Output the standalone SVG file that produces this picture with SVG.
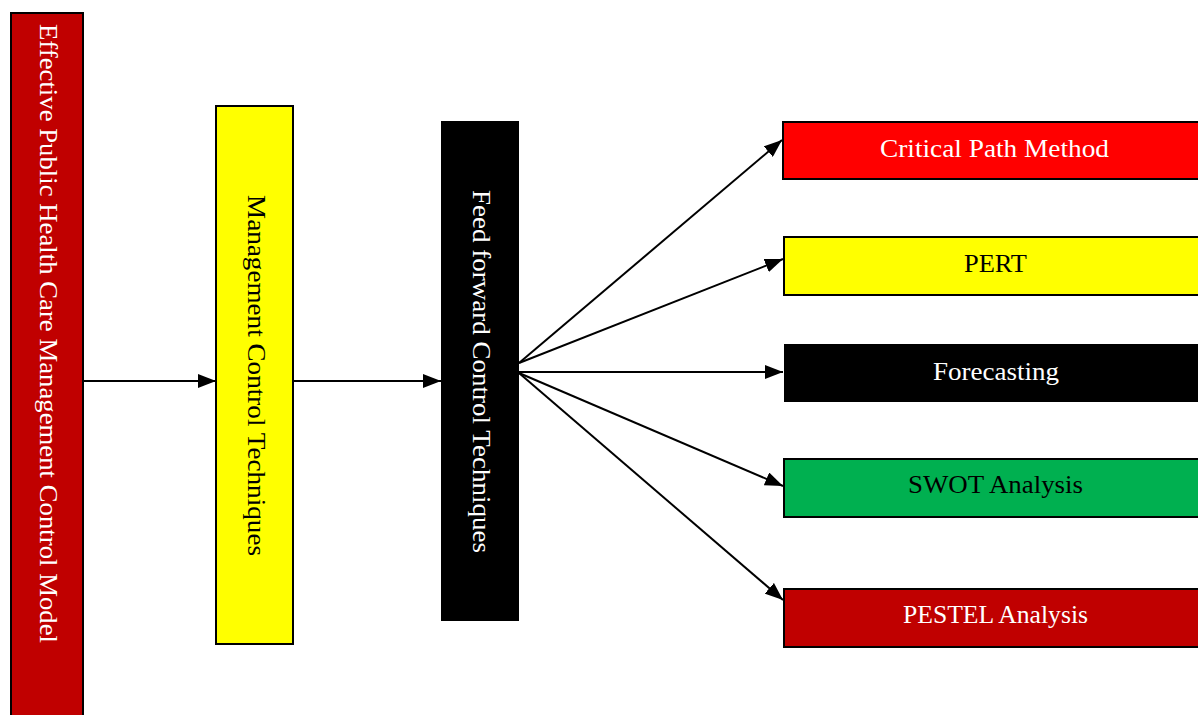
<svg xmlns="http://www.w3.org/2000/svg" width="1198" height="715" viewBox="0 0 1198 715">
  <style>
    .box { stroke: #000; stroke-width: 2; }
    .lbl { font-family: "Liberation Serif", "Times New Roman", serif; font-size: 26px; }
    .white { fill: #fff; }
    .black { fill: #000; }
    .conn { stroke: #000; stroke-width: 2; fill: none; marker-end: url(#arrow); }
  </style>
  <defs>
    <marker id="arrow" markerUnits="userSpaceOnUse" markerWidth="18" markerHeight="14" refX="18" refY="7" orient="auto">
      <path d="M0,0 L18,7 L0,14 Z" fill="#000"/>
    </marker>
  </defs>
  <rect x="0" y="0" width="1198" height="715" fill="#fff"/>

  <g id="node-model">
    <rect class="box" x="11" y="13" width="72" height="720" fill="#C00000"/>
    <text class="lbl white" transform="translate(40,24) rotate(90)" textLength="619" lengthAdjust="spacingAndGlyphs">Effective Public Health Care Management Control Model</text>
  </g>

  <g id="node-mct">
    <rect class="box" x="216" y="106" width="77" height="538" fill="#FFFF00"/>
    <text class="lbl black" transform="translate(248,195) rotate(90)" textLength="361" lengthAdjust="spacingAndGlyphs">Management Control Techniques</text>
  </g>

  <g id="node-ffct">
    <rect x="441" y="121" width="78" height="500" fill="#000"/>
    <text class="lbl white" transform="translate(473,190) rotate(90)" textLength="363" lengthAdjust="spacingAndGlyphs">Feed forward Control Techniques</text>
  </g>

  <g id="node-cpm">
    <rect class="box" x="783" y="122" width="430" height="57" fill="#FF0000"/>
    <text class="lbl white" x="994.5" y="157" text-anchor="middle" textLength="229" lengthAdjust="spacingAndGlyphs">Critical Path Method</text>
  </g>

  <g id="node-pert">
    <rect class="box" x="784" y="237" width="430" height="58" fill="#FFFF00"/>
    <text class="lbl black" x="995.5" y="272" text-anchor="middle" textLength="63" lengthAdjust="spacingAndGlyphs">PERT</text>
  </g>

  <g id="node-forecasting">
    <rect x="784" y="344" width="430" height="58" fill="#000"/>
    <text class="lbl white" x="996" y="380" text-anchor="middle" textLength="126" lengthAdjust="spacingAndGlyphs">Forecasting</text>
  </g>

  <g id="node-swot">
    <rect class="box" x="784" y="459" width="430" height="58" fill="#00B050"/>
    <text class="lbl black" x="995.5" y="493" text-anchor="middle" textLength="175" lengthAdjust="spacingAndGlyphs">SWOT Analysis</text>
  </g>

  <g id="node-pestel">
    <rect class="box" x="784" y="589" width="430" height="58" fill="#C00000"/>
    <text class="lbl white" x="995.5" y="623" text-anchor="middle" textLength="185" lengthAdjust="spacingAndGlyphs">PESTEL Analysis</text>
  </g>

  <g id="connectors">
    <line class="conn" x1="84" y1="381" x2="216" y2="381"/>
    <line class="conn" x1="294" y1="381" x2="441" y2="381"/>
    <line class="conn" x1="519" y1="363" x2="782" y2="140"/>
    <line class="conn" x1="519" y1="363" x2="783" y2="259"/>
    <line class="conn" x1="519" y1="372" x2="783" y2="372"/>
    <line class="conn" x1="519" y1="373" x2="783" y2="486"/>
    <line class="conn" x1="519" y1="373" x2="783" y2="600"/>
  </g>
</svg>
